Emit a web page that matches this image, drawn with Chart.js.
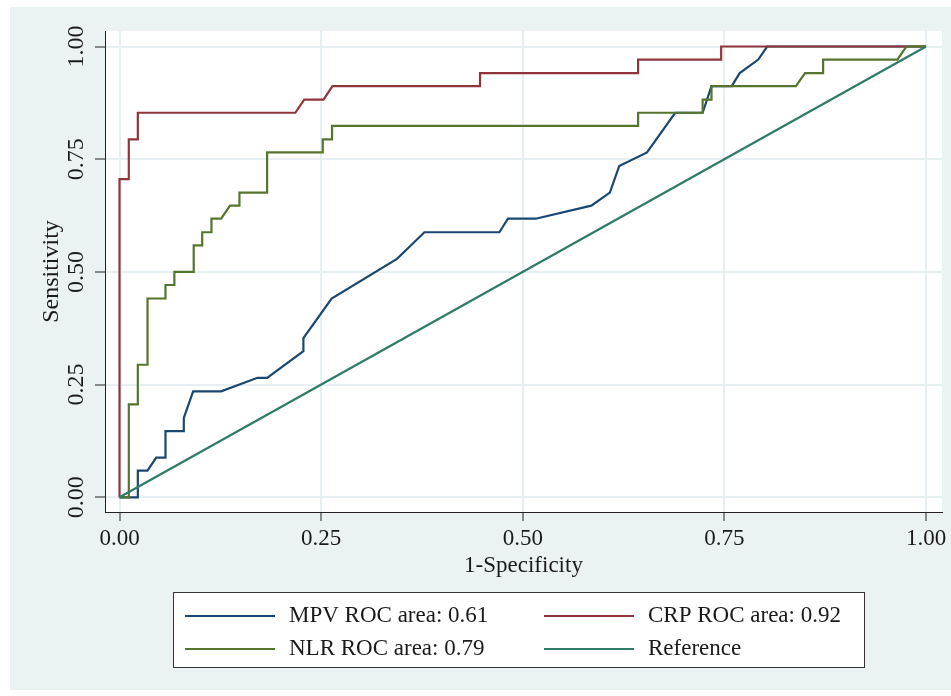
<!DOCTYPE html>
<html>
<head>
<meta charset="utf-8">
<script src="https://cdn.jsdelivr.net/npm/chart.js@4/dist/chart.umd.min.js"></script>
<style>
  html, body { margin: 0; padding: 0; background: #fff; }
  canvas { display: block; }
</style>
</head>
<body>
<canvas id="roc" width="951" height="696"></canvas>
<script>
// ROC curves (1-specificity, sensitivity)
const mpvX = [0, 0.0227, 0.0227, 0.0347, 0.0455, 0.057, 0.057, 0.0797, 0.0797, 0.0913, 0.126, 0.171, 0.183, 0.228, 0.228, 0.263, 0.344, 0.3615, 0.378, 0.471, 0.4816, 0.516, 0.585, 0.608, 0.6196, 0.654, 0.689, 0.723, 0.734, 0.759, 0.769, 0.792, 0.803, 1];
const mpvY = [0, 0, 0.059, 0.059, 0.088, 0.088, 0.147, 0.147, 0.176, 0.235, 0.235, 0.265, 0.265, 0.324, 0.353, 0.441, 0.529, 0.559, 0.588, 0.588, 0.618, 0.618, 0.647, 0.676, 0.735, 0.765, 0.853, 0.853, 0.912, 0.912, 0.941, 0.971, 1, 1];

const crpX = [0, 0, 0.0115, 0.0115, 0.0227, 0.0227, 0.218, 0.229, 0.253, 0.264, 0.447, 0.447, 0.643, 0.643, 0.746, 0.746, 1];
const crpY = [0, 0.706, 0.706, 0.794, 0.794, 0.853, 0.853, 0.882, 0.882, 0.912, 0.912, 0.941, 0.941, 0.971, 0.971, 1, 1];

const nlrX = [0, 0.0115, 0.0115, 0.0227, 0.0227, 0.0347, 0.0347, 0.057, 0.057, 0.068, 0.068, 0.092, 0.092, 0.1025, 0.1025, 0.114, 0.114, 0.126, 0.137, 0.1487, 0.1487, 0.183, 0.183, 0.252, 0.252, 0.2635, 0.2635, 0.643, 0.643, 0.723, 0.723, 0.734, 0.734, 0.8386, 0.850, 0.8724, 0.8724, 0.9645, 0.9756, 1];
const nlrY = [0, 0, 0.206, 0.206, 0.294, 0.294, 0.441, 0.441, 0.471, 0.471, 0.5, 0.5, 0.559, 0.559, 0.588, 0.588, 0.618, 0.618, 0.647, 0.647, 0.676, 0.676, 0.765, 0.765, 0.794, 0.794, 0.824, 0.824, 0.853, 0.853, 0.882, 0.882, 0.912, 0.912, 0.941, 0.941, 0.971, 0.971, 1, 1];

const refX = [0, 1];
const refY = [0, 1];

const seriesLabels = ["MPV ROC area: 0.61", "CRP ROC area: 0.92", "NLR ROC area: 0.79", "Reference"];
const seriesColors = ["#1a476f", "#90353b", "#55752f", "#2f7a68"];
const tickValues = [0, 0.25, 0.5, 0.75, 1];
const tickLabels = ["0.00", "0.25", "0.50", "0.75", "1.00"];

const toPoints = (xs, ys) => xs.map((x, i) => ({ x: x, y: ys[i] }));

const serif = "'Liberation Serif', 'Times New Roman', serif";
const textFont = "23px " + serif;
const rotFont = "24px " + serif;
const textColor = "#1a1a1a";
const gridColor = "#e8eff2";

// backgrounds, rotated y labels, axis titles and the boxed legend
const stataLook = {
  id: "stataLook",
  beforeDraw(chart) {
    const ctx = chart.ctx;
    const a = chart.chartArea;
    ctx.save();
    ctx.fillStyle = "#ffffff";
    ctx.fillRect(0, 0, chart.width, chart.height);
    ctx.fillStyle = "#eaf2f3";
    ctx.fillRect(10, 7, chart.width - 10, 683);
    ctx.fillStyle = "#ffffff";
    ctx.fillRect(a.left, a.top, a.right - a.left, a.bottom - a.top);
    ctx.restore();
  },
  afterDraw(chart) {
    const ctx = chart.ctx;
    const a = chart.chartArea;
    const yScale = chart.scales.y;
    ctx.save();
    ctx.fillStyle = textColor;
    ctx.textAlign = "center";
    ctx.textBaseline = "middle";

    // y tick labels, rotated
    ctx.font = rotFont;
    tickValues.forEach((v, i) => {
      ctx.save();
      ctx.translate(77, yScale.getPixelForValue(v));
      ctx.rotate(-Math.PI / 2);
      ctx.fillText(tickLabels[i], 0, 0);
      ctx.restore();
    });

    // axis titles
    ctx.save();
    ctx.translate(52, (a.top + a.bottom) / 2);
    ctx.rotate(-Math.PI / 2);
    ctx.fillText("Sensitivity", 0, 0);
    ctx.restore();
    ctx.font = textFont;
    ctx.fillText("1-Specificity", (a.left + a.right) / 2, 566);

    // legend box
    const box = { x: 173.5, y: 592.5, w: 691, h: 75 };
    ctx.fillStyle = "#ffffff";
    ctx.fillRect(box.x, box.y, box.w, box.h);
    ctx.strokeStyle = "#333333";
    ctx.lineWidth = 1;
    ctx.strokeRect(box.x, box.y, box.w, box.h);

    const colX = [185, 544];
    const rowY = [616, 649];
    const slots = [[0, 0], [1, 0], [0, 1], [1, 1]];
    chart.data.datasets.forEach((ds, i) => {
      const [c, r] = slots[i];
      ctx.strokeStyle = ds.borderColor;
      ctx.lineWidth = 2;
      ctx.beginPath();
      ctx.moveTo(colX[c], rowY[r]);
      ctx.lineTo(colX[c] + 90, rowY[r]);
      ctx.stroke();
      ctx.fillStyle = textColor;
      ctx.textAlign = "left";
      ctx.fillText(ds.label, colX[c] + 104, rowY[r]);
    });
    ctx.restore();
  }
};

const makeSet = (i, xs, ys, order) => ({
  label: seriesLabels[i],
  data: toPoints(xs, ys),
  borderColor: seriesColors[i],
  backgroundColor: seriesColors[i],
  borderWidth: 2.2,
  pointRadius: 0,
  tension: 0,
  fill: false,
  order: order
});

new Chart(document.getElementById("roc"), {
  type: "line",
  data: {
    datasets: [
      makeSet(0, mpvX, mpvY, 4),
      makeSet(1, crpX, crpY, 3),
      makeSet(2, nlrX, nlrY, 2),
      makeSet(3, refX, refY, 1)
    ]
  },
  options: {
    responsive: false,
    animation: false,
    devicePixelRatio: 1,
    layout: { padding: { left: 0, top: 31, right: 9, bottom: 0 } },
    plugins: {
      legend: { display: false },
      tooltip: { enabled: false }
    },
    scales: {
      x: {
        type: "linear",
        min: -0.018,
        max: 1.0198,
        afterBuildTicks: (s) => { s.ticks = tickValues.map(v => ({ value: v })); },
        afterFit: (s) => { s.height = 184; },
        grid: { color: gridColor, lineWidth: 2, tickColor: "#222", tickLength: 9, tickWidth: 1 },
        border: { color: "#222", width: 1 },
        ticks: {
          font: { family: serif, size: 23 },
          color: textColor,
          padding: 4,
          maxRotation: 0,
          callback: (v) => tickLabels[tickValues.indexOf(v)]
        }
      },
      y: {
        type: "linear",
        min: -0.0326,
        max: 1.0344,
        afterBuildTicks: (s) => { s.ticks = tickValues.map(v => ({ value: v })); },
        afterFit: (s) => { s.width = 105; },
        grid: { color: gridColor, lineWidth: 2, tickColor: "#222", tickLength: 10, tickWidth: 1 },
        border: { color: "#222", width: 1 },
        ticks: { display: false }
      }
    }
  },
  plugins: [stataLook]
});
</script>
</body>
</html>
